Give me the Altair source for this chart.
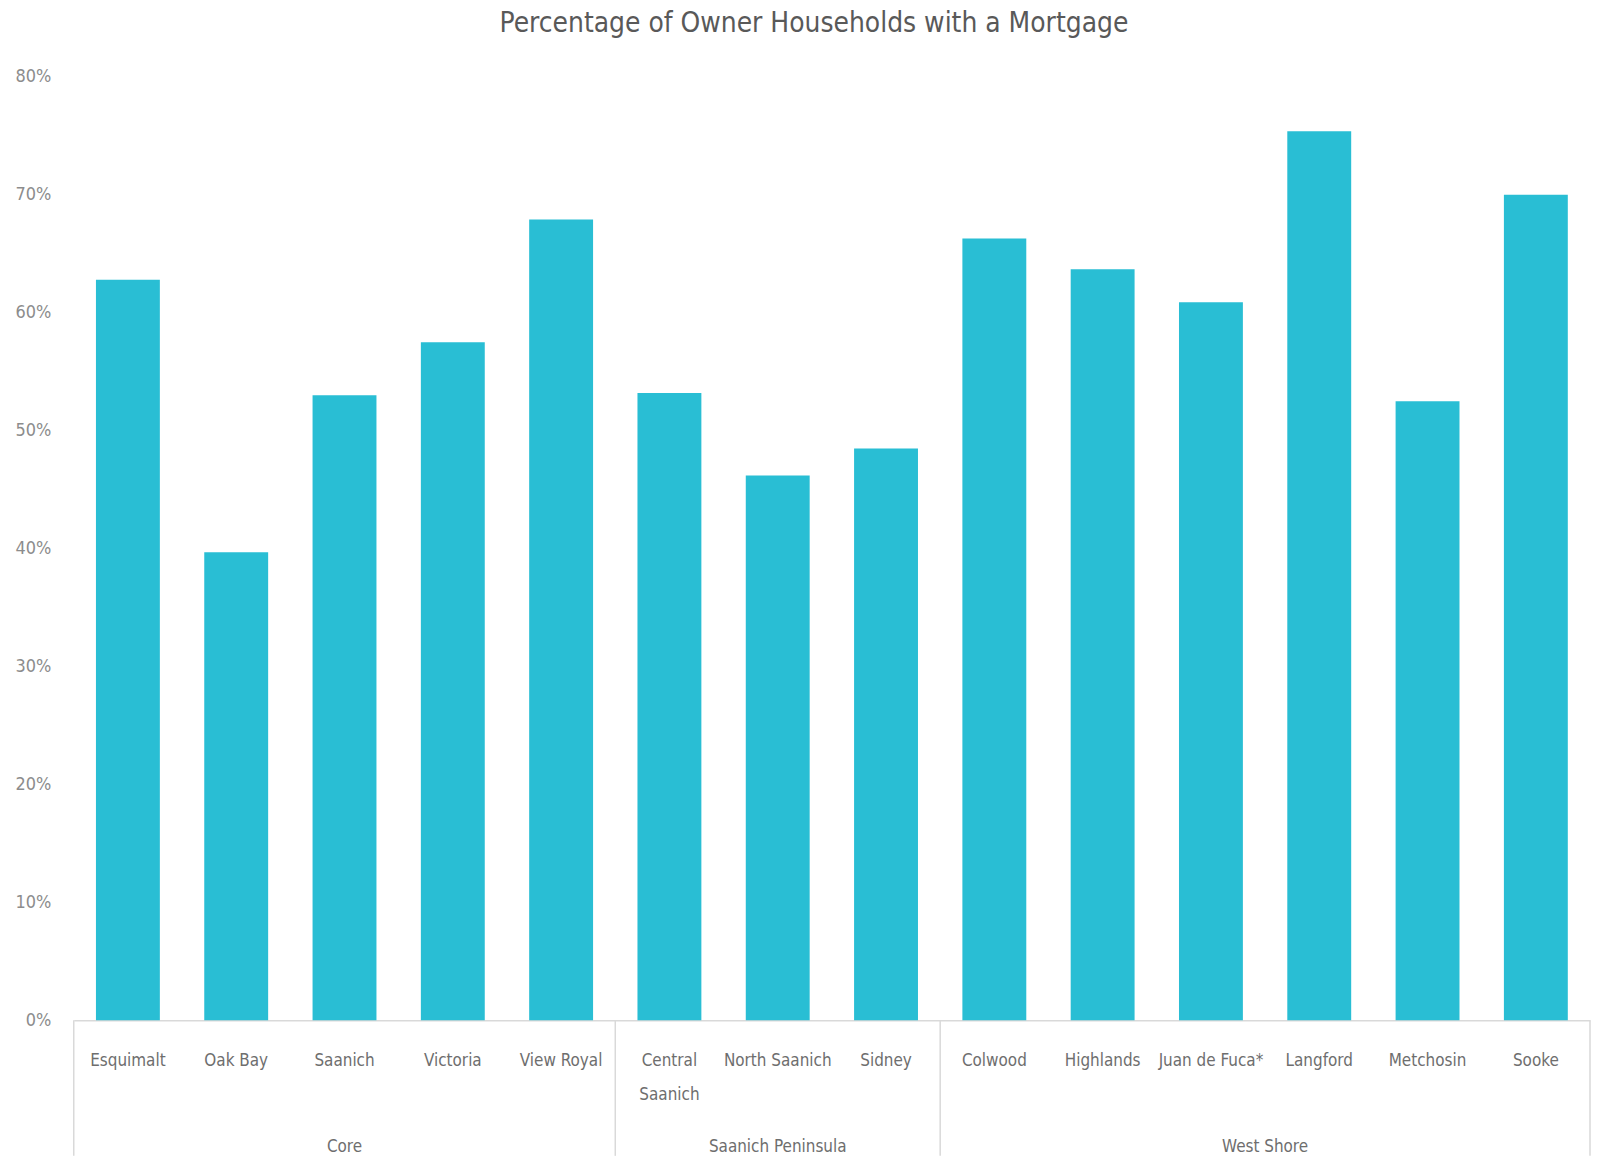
import altair as alt
import pandas as pd

# ---- data ----
municipalities = ["Esquimalt", "Oak Bay", "Saanich", "Victoria", "View Royal",
                  "Central Saanich", "North Saanich", "Sidney",
                  "Colwood", "Highlands", "Juan de Fuca*", "Langford", "Metchosin", "Sooke"]
subregions = ["Core"] * 5 + ["Saanich Peninsula"] * 3 + ["West Shore"] * 6
pct_with_mortgage = [62.8, 39.7, 53.0, 57.5, 67.9,
                     53.2, 46.2, 48.5,
                     66.3, 63.7, 60.9, 75.4, 52.5, 70.0]
y_tick_values = [0, 10, 20, 30, 40, 50, 60, 70, 80]
group_names = ["Core", "Saanich Peninsula", "West Shore"]
group_first = ["Esquimalt", "Central Saanich", "Colwood"]
group_last = ["Sooke"]

# ---- style ----
W, H = 1522, 947
N = len(municipalities)
STEP = W / N
PAD = 0.41
FONT = "Liberation Sans Narrow, DejaVu Sans Condensed, sans-serif"
BAR = "#29BED4"
LINE = "#D9D9D9"
TXT = "#6E6E6E"

df = pd.DataFrame({"name": municipalities, "group": subregions, "value": pct_with_mortgage})

xscale = alt.Scale(domain=municipalities, paddingInner=PAD, paddingOuter=PAD / 2)

bars = alt.Chart(df).mark_bar(color=BAR).encode(
    x=alt.X("name:N", sort=municipalities, scale=xscale, title=None,
            axis=alt.Axis(labelAngle=0, ticks=False, domainColor=LINE, domainWidth=1.5,
                          labelFont=FONT, labelFontSize=17, labelColor=TXT,
                          labelPadding=32, labelLineHeight=34,
                          labelExpr="datum.value == 'Central Saanich' ? ['Central', 'Saanich'] : datum.value")),
    y=alt.Y("value:Q", scale=alt.Scale(domain=[0, 80], nice=False), title=None,
            axis=alt.Axis(values=y_tick_values, grid=False, domain=False, ticks=False,
                          labelFont=FONT, labelFontSize=18, labelColor="#8C8C8C",
                          labelPadding=23, labelExpr="datum.value + '%'",
                          minExtent=66, maxExtent=66)),
)

first_df = pd.DataFrame({"name": group_first})
last_df = pd.DataFrame({"name": group_last})

sep_left = alt.Chart(first_df).mark_rule(color=LINE, strokeWidth=1.5, xOffset=-STEP * PAD / 2).encode(
    x=alt.X("name:N", sort=municipalities, scale=xscale, bandPosition=0),
    y=alt.value(H), y2=alt.value(H + 136),
)
sep_right = alt.Chart(last_df).mark_rule(color=LINE, strokeWidth=1.5, xOffset=STEP * PAD / 2).encode(
    x=alt.X("name:N", sort=municipalities, scale=xscale, bandPosition=1),
    y=alt.value(H), y2=alt.value(H + 136),
)

grp_a = pd.DataFrame({"name": ["Saanich", "North Saanich"], "label": group_names[:2]})
grp_b = pd.DataFrame({"name": ["Juan de Fuca*"], "label": group_names[2:]})

glab_a = alt.Chart(grp_a).mark_text(font=FONT, fontSize=17, color=TXT, baseline="middle").encode(
    x=alt.X("name:N", sort=municipalities, scale=xscale, bandPosition=0.5),
    y=alt.value(H + 127), text="label:N",
)
glab_b = alt.Chart(grp_b).mark_text(font=FONT, fontSize=17, color=TXT, baseline="middle",
                                    xOffset=STEP / 2).encode(
    x=alt.X("name:N", sort=municipalities, scale=xscale, bandPosition=0.5),
    y=alt.value(H + 127), text="label:N",
)

chart = alt.layer(bars, sep_left, sep_right, glab_a, glab_b).properties(
    width=W, height=H, padding=0,
    title=alt.TitleParams("Percentage of Owner Households with a Mortgage",
                          font=FONT, fontSize=28, fontWeight="normal", color="#595959",
                          anchor="middle", frame="group", dx=-18, offset=30),
).configure_view(stroke=None)

chart.save("out.html", embed_options={"renderer": "svg", "actions": False})
